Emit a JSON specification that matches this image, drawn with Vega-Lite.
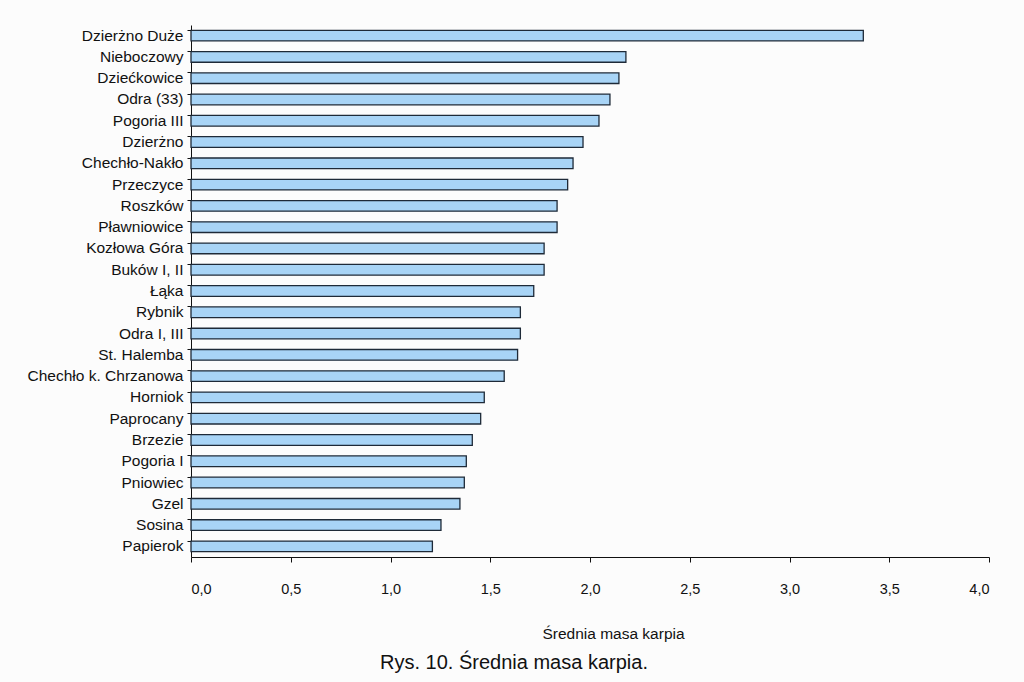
{
  "$schema": "https://vega.github.io/schema/vega-lite/v6.json",
  "width": 798,
  "height": 532,
  "autosize": {"type": "none"},
  "padding": {"left": 191, "top": 25, "right": 35, "bottom": 125},
  "background": "#fcfcfc",
  "config": {"view": {"stroke": null}, "font": "Liberation Sans"},
  "title": {
    "text": "Rys. 10. Średnia masa karpia.",
    "orient": "bottom",
    "anchor": "middle",
    "dx": -76,
    "offset": 11,
    "fontSize": 20,
    "fontWeight": "normal",
    "font": "Liberation Sans",
    "color": "#111111"
  },
  "data": {
    "values": [
      {"jezioro": "Dzierżno Duże", "masa": 3.37},
      {"jezioro": "Nieboczowy", "masa": 2.18},
      {"jezioro": "Dziećkowice", "masa": 2.145},
      {"jezioro": "Odra (33)", "masa": 2.10},
      {"jezioro": "Pogoria III", "masa": 2.045},
      {"jezioro": "Dzierżno", "masa": 1.965},
      {"jezioro": "Chechło-Nakło", "masa": 1.915},
      {"jezioro": "Przeczyce", "masa": 1.888},
      {"jezioro": "Roszków", "masa": 1.835},
      {"jezioro": "Pławniowice", "masa": 1.835},
      {"jezioro": "Kozłowa Góra", "masa": 1.77},
      {"jezioro": "Buków I, II", "masa": 1.77},
      {"jezioro": "Łąka", "masa": 1.718},
      {"jezioro": "Rybnik", "masa": 1.651},
      {"jezioro": "Odra I, III", "masa": 1.651},
      {"jezioro": "St. Halemba", "masa": 1.637},
      {"jezioro": "Chechło k. Chrzanowa", "masa": 1.57},
      {"jezioro": "Horniok", "masa": 1.47},
      {"jezioro": "Paprocany", "masa": 1.452},
      {"jezioro": "Brzezie", "masa": 1.41},
      {"jezioro": "Pogoria I", "masa": 1.38},
      {"jezioro": "Pniowiec", "masa": 1.37},
      {"jezioro": "Gzel", "masa": 1.348},
      {"jezioro": "Sosina", "masa": 1.253},
      {"jezioro": "Papierok", "masa": 1.21}
    ]
  },
  "mark": {"type": "bar", "fill": "#a8d4f6", "stroke": "#1e2a38", "strokeWidth": 1.3},
  "encoding": {
    "y": {
      "field": "jezioro",
      "type": "nominal",
      "sort": null,
      "scale": {"paddingInner": 0.5, "paddingOuter": 0.25},
      "axis": {
        "title": null,
        "domainColor": "#111111",
        "domainWidth": 1,
        "tickColor": "#111111",
        "tickSize": 4,
        "bandPosition": 0,
        "labelFontSize": 15.5,
        "labelColor": "#111111",
        "labelPadding": 4,
        "labelFont": "Liberation Sans"
      }
    },
    "x": {
      "field": "masa",
      "type": "quantitative",
      "scale": {"domain": [0, 4], "nice": false},
      "axis": {
        "title": "Średnia masa karpia",
        "values": [0, 0.5, 1, 1.5, 2, 2.5, 3, 3.5, 4],
        "labelExpr": "replace(format(datum.value, '.1f'), '.', ',')",
        "grid": false,
        "domainColor": "#111111",
        "tickColor": "#111111",
        "tickSize": 5,
        "labelFontSize": 14.5,
        "labelColor": "#111111",
        "labelPadding": 20,
        "labelFont": "Liberation Sans",
        "titleFontSize": 15.5,
        "titleFontWeight": "normal",
        "titleColor": "#111111",
        "titleFont": "Liberation Sans",
        "titleX": 422,
        "titleY": 76,
        "titleBaseline": "middle"
      }
    }
  }
}
